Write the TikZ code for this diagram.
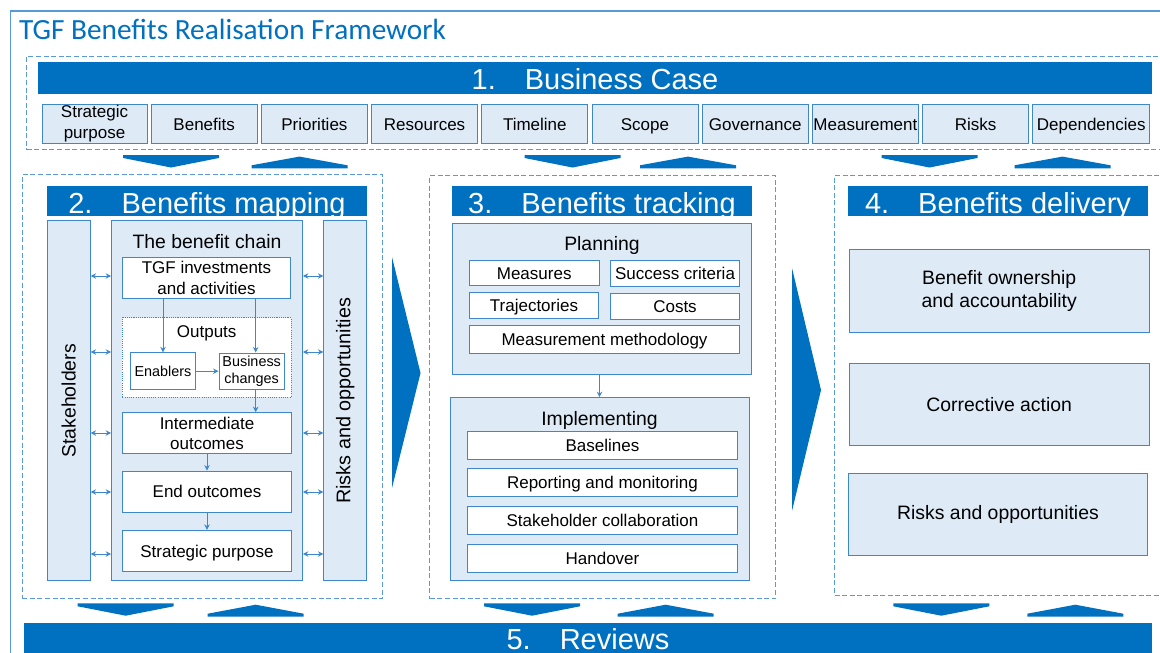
\documentclass[tikz,border=0pt]{standalone}
\usepackage{fontspec}
\setmainfont{Liberation Sans}
\newfontfamily\titlefont{Carlito}
\usepackage{tikz}
\usetikzlibrary{arrows.meta,positioning,calc}

\definecolor{tgfblue}{RGB}{0,112,192}
\definecolor{paleblue}{RGB}{222,235,247}
\definecolor{edgeblue}{RGB}{62,135,202}
\definecolor{dashblue}{RGB}{91,155,213}

\begin{document}
\begin{tikzpicture}[
  x=1pt, y=-1pt,
  frame/.style={draw=dashblue, line width=1.3pt},
  stage/.style={rectangle, draw=dashblue, dash pattern=on 5pt off 2.6pt, line width=1pt, anchor=north west, inner sep=0pt},
  banner/.style={rectangle, fill=tgfblue, text=white, font=\fontsize{29}{29}\selectfont, inner sep=0pt, text height=27pt, text depth=3pt, anchor=base},
  item/.style={rectangle, draw=edgeblue, fill=paleblue, line width=1pt, align=center, inner sep=0pt, minimum width=106pt, minimum height=39pt, font=\fontsize{17}{21}\selectfont, text height=13pt, text depth=0pt},
  panel/.style={rectangle, draw=edgeblue, fill=paleblue, line width=1pt, align=center, inner sep=0pt, font=\fontsize{19.4}{22.7}\selectfont},
  wbox/.style={rectangle, draw=edgeblue, fill=white, line width=1pt, align=center, inner sep=0pt, font=\fontsize{17}{20.5}\selectfont},
  oneline/.style={text height=12.5pt, text depth=0.5pt},
  head/.style={inner sep=0pt, font=\fontsize{19.4}{23}\selectfont},
  arrow/.style={-{Stealth[length=5.5pt,width=5.5pt]}, draw=edgeblue, line width=0.9pt},
  dblarrow/.style={{Stealth[length=5.5pt,width=5.5pt]}-{Stealth[length=5.5pt,width=5.5pt]}, draw=edgeblue, line width=0.9pt},
  chev/.style={fill=tgfblue}
]
\useasboundingbox (0,0) rectangle (1160,653);
\clip (0,0) rectangle (1160,653);

% frame and title
\draw[frame] (10.5,11) rectangle (1180,680);
\node[anchor=base west, inner sep=0pt, text=tgfblue, font=\titlefont\fontsize{29.3}{30}\selectfont] (title) at (19,39.5) {TGF Benefits Realisation Framework};

% 1. business case
\node[stage, minimum width=1150pt, minimum height=93.3pt] (bcbox) at (26,56) {};
\node[banner, minimum width=1114pt, text depth=5pt] (bc) at (595,89) {1.\quad Business Case};
\node[item, minimum width=105pt, text height=, text depth=] (purpose) at (94.5,123.8) {Strategic\\purpose};
\node[item, right=3.2pt of purpose] (benefits) {Benefits};
\node[item, right=3.2pt of benefits] (priorities) {Priorities};
\node[item, right=3.2pt of priorities] (resources) {Resources};
\node[item, right=3.2pt of resources] (timeline) {Timeline};
\node[item, right=3.2pt of timeline] (scope) {Scope};
\node[item, right=3.2pt of scope] (governance) {Governance};
\node[item, right=3.2pt of governance] (measurement) {Measurement};
\node[item, right=3.2pt of measurement] (risks) {Risks};
\node[item, right=3.2pt of risks, minimum width=117pt] (depend) {Dependencies};

\foreach \x in {123,524.5,881.5}
  \fill[chev] (\x,155) -- ++(96,0) -- ++(0,3) -- ++(-48,9.5) -- ++(-48,-9.5) -- cycle;
\foreach \x in {251.5,640,1014.5}
  \fill[chev] (\x,168.3) -- ++(96,0) -- ++(0,-3) -- ++(-48,-8.7) -- ++(-48,8.7) -- cycle;

% 2. benefits mapping
\node[stage, minimum width=360.6pt, minimum height=424.3pt] (mapbox) at (21.7,174) {};
\node[banner, minimum width=319.4pt] (map) at (207,213) {2.\quad Benefits mapping};
\node[panel, minimum width=42.7pt, minimum height=359.7pt] (stake) at (68.7,400.8) {\rotatebox{90}{Stakeholders}};
\node[panel, minimum width=190.6pt, minimum height=360.4pt] (chain) at (207,400.5) {};
\node[panel, minimum width=42.7pt, minimum height=359.7pt, font=\fontsize{19.8}{22}\selectfont] (riskopp) at (345.3,400.8) {\rotatebox{90}{Risks and opportunities}};
\node[head] (chainlbl) at (207,241.7) {The benefit chain};
\node[wbox, minimum width=168.5pt, minimum height=40.6pt] (invest) at (206.5,278) {TGF investments\\and activities};
\node[wbox, dash pattern=on 1.1pt off 1.1pt, minimum width=168.7pt, minimum height=79.6pt] (outputs) at (206.7,357.5) {};
\node[inner sep=0pt, font=\fontsize{17}{20}\selectfont] (outlbl) at (206.7,333.3) {Outputs};
\node[wbox, minimum width=64.6pt, minimum height=36.7pt, font=\fontsize{14.4}{17.7}\selectfont] (enablers) at (163,371.2) {Enablers};
\node[wbox, minimum width=65.3pt, minimum height=36.4pt, font=\fontsize{14.4}{17.7}\selectfont] (changes) at (251.7,371.2) {Business\\changes};
\node[wbox, minimum width=168.5pt, minimum height=41.3pt] (inter) at (207,433.3) {Intermediate\\outcomes};
\node[wbox, oneline, minimum width=168.5pt, minimum height=41.3pt] (endout) at (207,491.7) {End outcomes};
\node[wbox, oneline, minimum width=168.5pt, minimum height=41.3pt] (stratp) at (207,551) {Strategic purpose};

\coordinate (chtop) at ([xshift=4pt]changes.north);
\coordinate (chbot) at ([xshift=4pt]changes.south);
\draw[arrow] (enablers.north |- invest.south) -- (enablers.north);
\draw[arrow] (chtop |- invest.south) -- (chtop);
\draw[arrow] (enablers) -- (changes);
\draw[arrow] (chbot) -- (chbot |- inter.north);
\draw[arrow] (inter) -- (endout);
\draw[arrow] (endout) -- (stratp);
\foreach \y in {276,352,433,492,554} {
  \draw[dblarrow] (stake.east |- 0,\y) -- (chain.west |- 0,\y);
  \draw[dblarrow] (chain.east |- 0,\y) -- (riskopp.west |- 0,\y);
}

\fill[chev] (392,257) -- (420.5,373) -- (392,488) -- cycle;

% 3. benefits tracking
\node[stage, minimum width=345.7pt, minimum height=423.3pt] (trackbox) at (429.3,175) {};
\node[banner, minimum width=299.4pt] (track) at (602,213) {3.\quad Benefits tracking};
\node[panel, minimum width=299.4pt, minimum height=151pt] (plan) at (602,298.8) {};
\node[head] (planlbl) at (602,245) {Planning};
\node[wbox, oneline, minimum width=129.6pt, minimum height=25.7pt] (measures) at (534.2,273) {Measures};
\node[wbox, oneline, minimum width=129.4pt, minimum height=25.7pt] (success) at (675,273.5) {Success criteria};
\node[wbox, oneline, minimum width=129.6pt, minimum height=25.7pt] (traj) at (534,305.5) {Trajectories};
\node[wbox, oneline, minimum width=129.4pt, minimum height=25.7pt] (costs) at (675,306.2) {Costs};
\node[wbox, oneline, minimum width=270.4pt, minimum height=28.3pt] (method) at (604.5,339.2) {Measurement methodology};
\node[panel, minimum width=299pt, minimum height=183pt] (impl) at (599.5,489.2) {};
\node[head] (impllbl) at (599.5,420) {Implementing};
\node[wbox, oneline, minimum width=270.4pt, minimum height=28.3pt] (baselines) at (602.5,445.8) {Baselines};
\node[wbox, oneline, minimum width=270.4pt, minimum height=28.3pt] (report) at (602.5,482.2) {Reporting and monitoring};
\node[wbox, oneline, minimum width=270.4pt, minimum height=28.3pt] (collab) at (602.5,520.8) {Stakeholder collaboration};
\node[wbox, oneline, minimum width=270.4pt, minimum height=28.3pt] (handover) at (602.5,558.5) {Handover};
\draw[arrow] (impl.north |- plan.south) -- (impl.north);

\fill[chev] (792,268) -- (821,390) -- (792,511) -- cycle;

% 4. benefits delivery
\node[stage, minimum width=340pt, minimum height=420pt] (delbox) at (834,175) {};
\node[banner, minimum width=299.4pt] (deliv) at (998,213) {4.\quad Benefits delivery};
\node[panel, minimum width=299.7pt, minimum height=82.7pt] (owner) at (999.2,290.7) {Benefit ownership\\and accountability};
\node[panel, minimum width=299.7pt, minimum height=82.4pt] (correct) at (999.2,404.5) {Corrective action};
\node[panel, minimum width=299.4pt, minimum height=82.4pt] (riskdel) at (998,514.5) {Risks and opportunities};

% 5. reviews
\foreach \x in {77.7,484,893.3}
  \fill[chev] (\x,603.3) -- ++(96,0) -- ++(0,3) -- ++(-48,9.4) -- ++(-48,-9.4) -- cycle;
\foreach \x in {207.7,617.7,1027.3}
  \fill[chev] (\x,616.7) -- ++(96,0) -- ++(0,-3) -- ++(-48,-9) -- ++(-48,9) -- cycle;
\node[banner, minimum width=1128pt, text height=26.3pt, text depth=12pt] (reviews) at (588,649) {5.\quad Reviews};

\end{tikzpicture}
\end{document}
